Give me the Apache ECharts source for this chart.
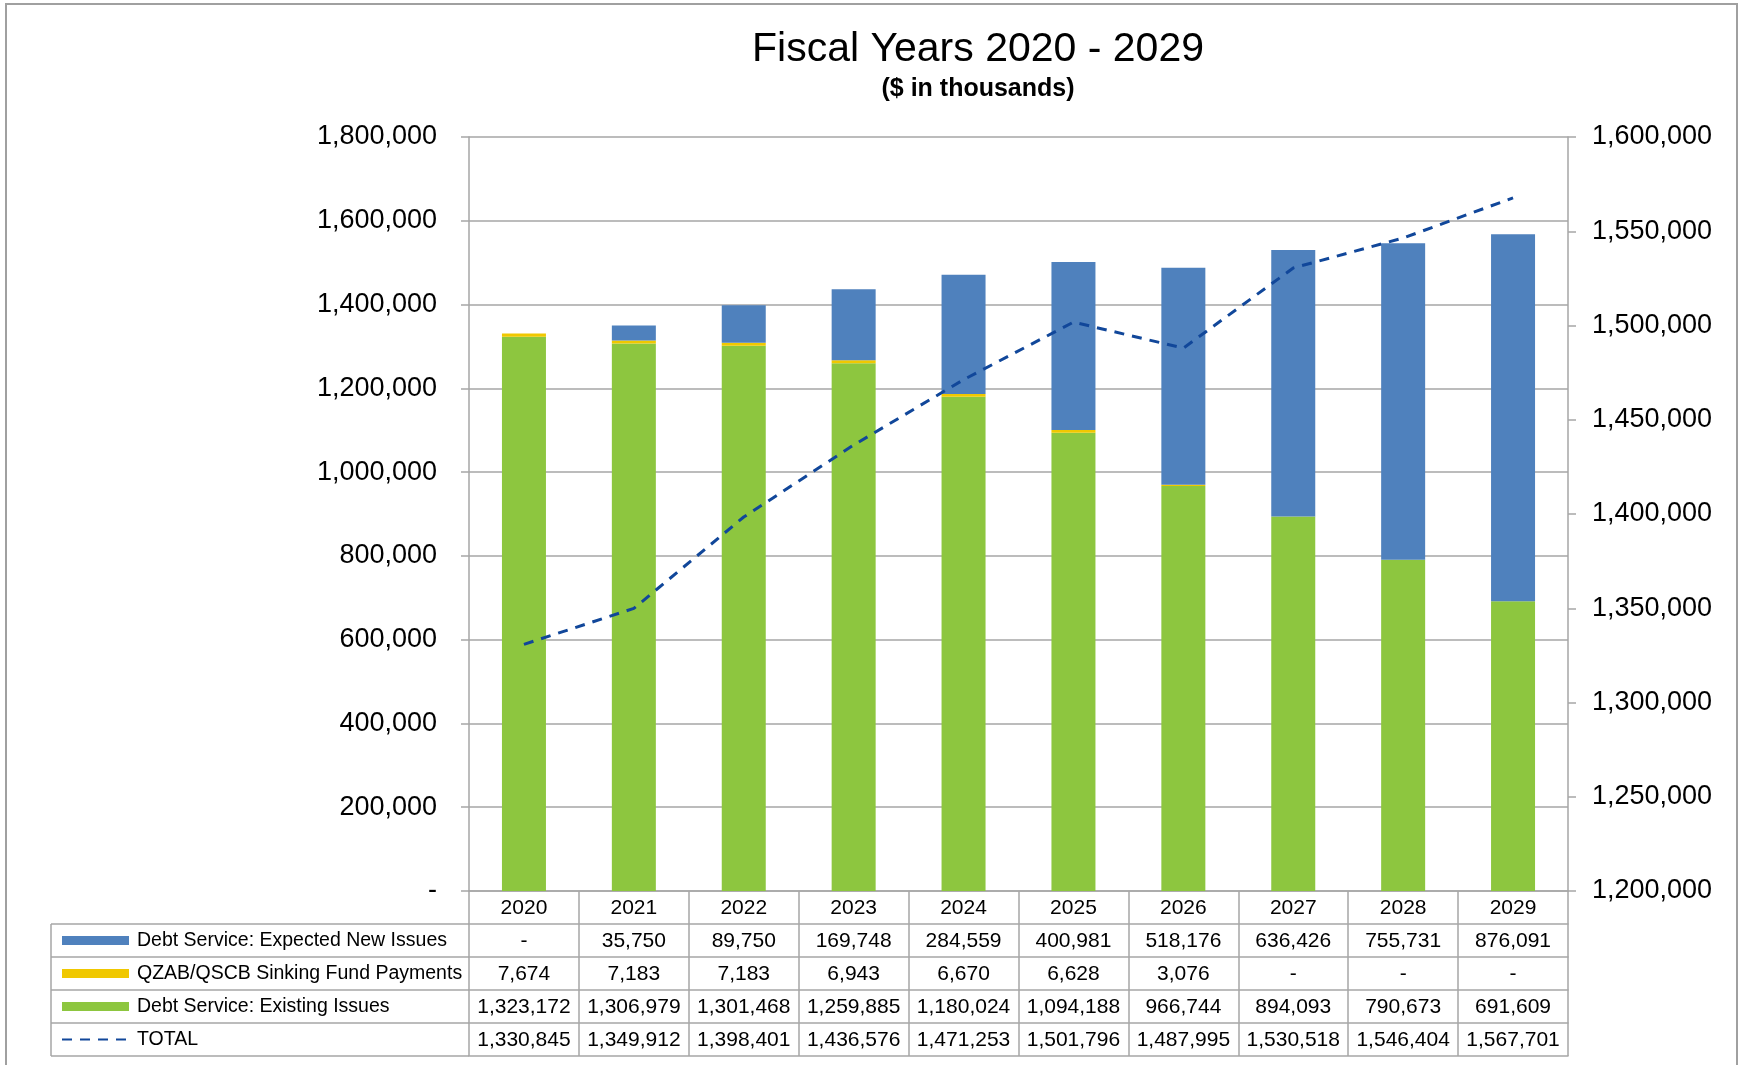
<!DOCTYPE html>
<html>
<head>
<meta charset="utf-8">
<script src="https://cdn.jsdelivr.net/npm/echarts@6/dist/echarts.min.js"></script>
<style>
html,body{margin:0;padding:0;background:#fff;}
#chart{width:1739px;height:1065px;}
</style>
</head>
<body>
<div id="chart"></div>
<script>
// ---- data ----
const years = ['2020','2021','2022','2023','2024','2025','2026','2027','2028','2029'];
const newIssues = [0, 35750, 89750, 169748, 284559, 400981, 518176, 636426, 755731, 876091];
const qzab = [7674, 7183, 7183, 6943, 6670, 6628, 3076, 0, 0, 0];
const existing = [1323172, 1306979, 1301468, 1259885, 1180024, 1094188, 966744, 894093, 790673, 691609];
const total = [1330845, 1349912, 1398401, 1436576, 1471253, 1501796, 1487995, 1530518, 1546404, 1567701];
const seriesNames = ['Debt Service: Expected New Issues', 'QZAB/QSCB Sinking Fund Payments', 'Debt Service: Existing Issues', 'TOTAL'];
const leftAxis = {min: 0, max: 1800000, interval: 200000};
const rightAxis = {min: 1200000, max: 1600000, interval: 50000};

// ---- styling ----
const FONT = "'Liberation Sans', Arial, sans-serif";
const GRAY = '#a6a6a6';
const C_BLUE = '#4f81bd', C_YEL = '#f0c800', C_GREEN = '#8dc63f', C_LINE = '#11479a';
const GRID = {left: 469, right: 171, top: 137, bottom: 174};
const ROW_H = 33;
const W = 1739, H = 1065;
const plotBottom = H - GRID.bottom;

function fmt(v) { return v === 0 ? '-' : v.toLocaleString('en-US'); }

const tableRows = [newIssues, qzab, existing, total];

const xAxes = [{
  type: 'category', data: years, gridIndex: 0, position: 'bottom',
  axisLine: {show: true, lineStyle: {color: GRAY, width: 1.5}},
  axisTick: {show: true, length: ROW_H, interval: 0, lineStyle: {color: GRAY, width: 1.5}},
  axisLabel: {interval: 0, color: '#000', fontFamily: FONT, fontSize: 21, margin: 17, verticalAlign: 'middle'}
}];
tableRows.forEach((row, k) => {
  xAxes.push({
    type: 'category', data: years, gridIndex: 0, position: 'bottom', offset: ROW_H * (k + 1),
    axisLine: {show: true, onZero: false, lineStyle: {color: GRAY, width: 1.5}},
    axisTick: {show: true, length: ROW_H, interval: 0, lineStyle: {color: GRAY, width: 1.5}},
    axisLabel: {interval: 0, color: '#000', fontFamily: FONT, fontSize: 21, margin: 17, verticalAlign: 'middle',
      formatter: (v, i) => fmt(row[i])}
  });
});
xAxes.push({
  type: 'category', data: years, gridIndex: 0, position: 'bottom', offset: ROW_H * 5,
  axisLine: {show: true, onZero: false, lineStyle: {color: GRAY, width: 1.5}},
  axisTick: {show: false}, axisLabel: {show: false}
});

// legend-column borders of the data table
const tblLeft = 51;
const gfx = [];
for (let k = 1; k <= 5; k++) {
  const y = plotBottom + ROW_H * k;
  gfx.push({type: 'line', shape: {x1: tblLeft, y1: y, x2: GRID.left, y2: y}, style: {stroke: GRAY, lineWidth: 1.5}, silent: true});
}
gfx.push({type: 'line', shape: {x1: tblLeft, y1: plotBottom + ROW_H, x2: tblLeft, y2: plotBottom + ROW_H * 5}, style: {stroke: GRAY, lineWidth: 1.5}, silent: true});
// outer border
gfx.push({type: 'rect', shape: {x: 6, y: 4, width: 1731, height: 1100}, style: {fill: null, stroke: '#a0a0a0', lineWidth: 2}, silent: true, z: -1});
// titles
gfx.push({type: 'text', x: 978, y: 50, style: {text: 'Fiscal Years 2020 - 2029', font: "41px " + FONT, fill: '#000', align: 'center', verticalAlign: 'middle'}});
gfx.push({type: 'text', x: 978, y: 89, style: {text: '($ in thousands)', font: "bold 25px " + FONT, fill: '#000', align: 'center', verticalAlign: 'middle'}});

const chart = echarts.init(document.getElementById('chart'), null, {renderer: 'canvas'});
chart.setOption({
  animation: false,
  backgroundColor: '#fff',
  textStyle: {fontFamily: FONT},
  grid: {left: GRID.left, right: GRID.right, top: GRID.top, bottom: GRID.bottom, containLabel: false},
  legend: {
    orient: 'vertical', left: 61, top: plotBottom + ROW_H, padding: 0, itemGap: 0,
    itemWidth: 67, itemHeight: 9, selectedMode: false,
    textStyle: {color: '#000', fontFamily: FONT, fontSize: 19.5, lineHeight: ROW_H, padding: [0, 0, 0, 3]},
    data: [
      {name: seriesNames[0], icon: 'rect'},
      {name: seriesNames[1], icon: 'rect'},
      {name: seriesNames[2], icon: 'rect'},
      {name: seriesNames[3], itemStyle: {color: 'rgba(255,255,255,0)', borderWidth: 0, borderColor: 'rgba(255,255,255,0)'}}
    ]
  },
  xAxis: xAxes,
  yAxis: [{
    type: 'value', min: leftAxis.min, max: leftAxis.max, interval: leftAxis.interval, position: 'left',
    axisLine: {show: true, lineStyle: {color: GRAY, width: 1.5}},
    axisTick: {show: true, length: 8, lineStyle: {color: GRAY, width: 1.5}},
    splitLine: {show: true, lineStyle: {color: GRAY, width: 1.5}},
    axisLabel: {color: '#000', fontFamily: FONT, fontSize: 27, margin: 32, formatter: v => v === 0 ? '-' : v.toLocaleString('en-US')}
  }, {
    type: 'value', min: rightAxis.min, max: rightAxis.max, interval: rightAxis.interval, position: 'right',
    axisLine: {show: true, lineStyle: {color: GRAY, width: 1.5}},
    axisTick: {show: true, length: 8, lineStyle: {color: GRAY, width: 1.5}},
    splitLine: {show: false},
    axisLabel: {color: '#000', fontFamily: FONT, fontSize: 27, margin: 24, formatter: v => v.toLocaleString('en-US')}
  }],
  series: [
    {name: seriesNames[2], type: 'bar', stack: 'ds', data: existing, barWidth: 44, itemStyle: {color: C_GREEN}},
    {name: seriesNames[1], type: 'bar', stack: 'ds', data: qzab, barWidth: 44, itemStyle: {color: C_YEL}},
    {name: seriesNames[0], type: 'bar', stack: 'ds', data: newIssues, barWidth: 44, itemStyle: {color: C_BLUE}},
    {name: seriesNames[3], type: 'line', yAxisIndex: 1, data: total, symbol: 'none', showSymbol: false,
      lineStyle: {color: C_LINE, width: 3, type: [10, 8]}, itemStyle: {color: C_LINE}, z: 5}
  ],
  graphic: gfx
});
</script>
</body>
</html>
